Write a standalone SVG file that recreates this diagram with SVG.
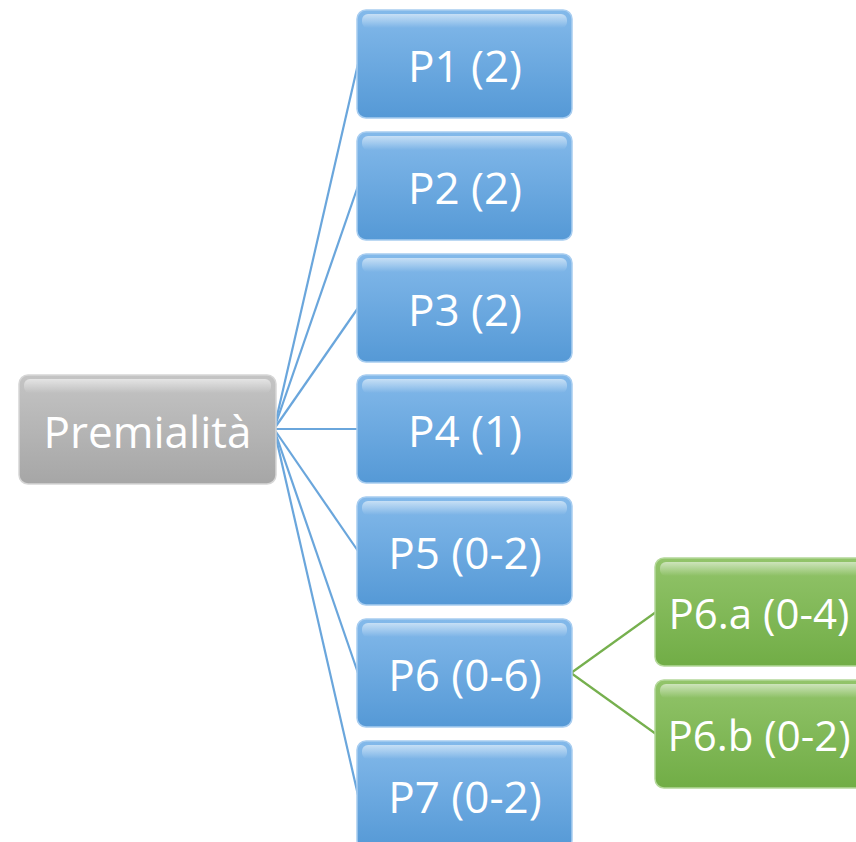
<svg xmlns="http://www.w3.org/2000/svg" width="856" height="842" viewBox="0 0 856 842">
<defs>
<linearGradient id="gBlue" x1="0" y1="0" x2="0" y2="1">
<stop offset="0" stop-color="#83b9ea"/><stop offset="1" stop-color="#5599d6"/>
</linearGradient>
<linearGradient id="gGray" x1="0" y1="0" x2="0" y2="1">
<stop offset="0" stop-color="#c4c4c4"/><stop offset="1" stop-color="#a6a6a6"/>
</linearGradient>
<linearGradient id="gGreen" x1="0" y1="0" x2="0" y2="1">
<stop offset="0" stop-color="#92c46a"/><stop offset="1" stop-color="#71ad46"/>
</linearGradient>
<linearGradient id="hl" x1="0" y1="0" x2="0" y2="1">
<stop offset="0" stop-color="#ffffff" stop-opacity="0.55"/><stop offset="1" stop-color="#ffffff" stop-opacity="0"/>
</linearGradient>
</defs>
<style>
.blue{fill:url(#gBlue);stroke:#a8cdf0;stroke-width:1.5}
.gray{fill:url(#gGray);stroke:#d6d6d6;stroke-width:1.5}
.green{fill:url(#gGreen);stroke:#b4d89a;stroke-width:1.5}
.hl{fill:url(#hl)}
.t{font-family:"Open Sans","Liberation Sans",sans-serif;font-size:44px;fill:#ffffff;text-anchor:middle}
.tg{font-size:42px}
.cb{stroke:#6aa6dc;stroke-width:2.2;fill:none}
.cg{stroke:#76b04e;stroke-width:2.2;fill:none}
</style>
<g id="connectors">
<line class="cb" x1="274" y1="429" x2="358" y2="64"/>
<line class="cb" x1="274" y1="429" x2="358" y2="186"/>
<line class="cb" x1="274" y1="429" x2="358" y2="308"/>
<line class="cb" x1="274" y1="429" x2="358" y2="429"/>
<line class="cb" x1="274" y1="429" x2="358" y2="551"/>
<line class="cb" x1="274" y1="429" x2="358" y2="673"/>
<line class="cb" x1="274" y1="429" x2="358" y2="795"/>
<line class="cg" x1="571" y1="673" x2="656" y2="612"/>
<line class="cg" x1="571" y1="673" x2="656" y2="734"/>
</g>
<g id="premialita">
<rect class="gray" x="19" y="375" width="257" height="109" rx="9"/>
<rect class="hl" x="24" y="379" width="247" height="14" rx="6"/>
<text class="t" x="147.5" y="448">Premialità</text>
</g>
<g id="p1">
<rect class="blue" x="357" y="10" width="215" height="108" rx="9"/>
<rect class="hl" x="362" y="14" width="205" height="14" rx="6"/>
<text class="t" x="465" y="82">P1 (2)</text>
</g>
<g id="p2">
<rect class="blue" x="357" y="132" width="215" height="108" rx="9"/>
<rect class="hl" x="362" y="136" width="205" height="14" rx="6"/>
<text class="t" x="465" y="204">P2 (2)</text>
</g>
<g id="p3">
<rect class="blue" x="357" y="254" width="215" height="108" rx="9"/>
<rect class="hl" x="362" y="258" width="205" height="14" rx="6"/>
<text class="t" x="465" y="326">P3 (2)</text>
</g>
<g id="p4">
<rect class="blue" x="357" y="375" width="215" height="108" rx="9"/>
<rect class="hl" x="362" y="379" width="205" height="14" rx="6"/>
<text class="t" x="465" y="447">P4 (1)</text>
</g>
<g id="p5">
<rect class="blue" x="357" y="497" width="215" height="108" rx="9"/>
<rect class="hl" x="362" y="501" width="205" height="14" rx="6"/>
<text class="t" x="465" y="569">P5 (0-2)</text>
</g>
<g id="p6">
<rect class="blue" x="357" y="619" width="215" height="108" rx="9"/>
<rect class="hl" x="362" y="623" width="205" height="14" rx="6"/>
<text class="t" x="465" y="691">P6 (0-6)</text>
</g>
<g id="p7">
<rect class="blue" x="357" y="741" width="215" height="108" rx="9"/>
<rect class="hl" x="362" y="745" width="205" height="14" rx="6"/>
<text class="t" x="465" y="813">P7 (0-2)</text>
</g>
<g id="p6a">
<rect class="green" x="655" y="558" width="215" height="108" rx="9"/>
<rect class="hl" x="660" y="562" width="205" height="14" rx="6"/>
<text class="t tg" x="759" y="629">P6.a (0-4)</text>
</g>
<g id="p6b">
<rect class="green" x="655" y="680" width="215" height="108" rx="9"/>
<rect class="hl" x="660" y="684" width="205" height="14" rx="6"/>
<text class="t tg" x="759" y="751">P6.b (0-2)</text>
</g>
</svg>
